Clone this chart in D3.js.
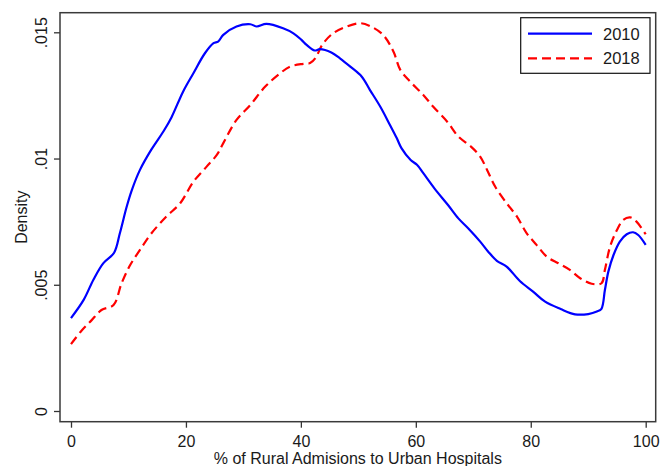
<!DOCTYPE html>
<html>
<head>
<meta charset="utf-8">
<script src="https://cdn.jsdelivr.net/npm/d3@7/dist/d3.min.js"></script>
<style>
  html, body { margin: 0; padding: 0; background: #fff; }
  svg { display: block; }
  text { font-family: "Liberation Sans", Arial, Helvetica, sans-serif; fill: #1a1a1a; }
</style>
</head>
<body>
<svg id="chart" width="670" height="466"></svg>
<script>
// ---- Data ----
const seriesNames = ["2010", "2018"];
const xTicks = [0, 20, 40, 60, 80, 100];
const yTicks = [0, 0.005, 0.01, 0.015];
const yTickLabels = ["0", ".005", ".01", ".015"];

const x2010 = [0, 2.2, 3.9, 5.6, 7.5, 8.5, 9.7, 10.6, 12.0, 14.0, 16.1, 17.5, 19.5, 21.3, 23.3, 24.8, 25.6, 26.5, 28.8, 31.2, 32.3, 34.0, 36.9, 38.7, 40.1, 41.0, 42.4, 43.3, 45.3, 46.8, 48.6, 50.6, 52.0, 53.8, 55.5, 56.7, 57.5, 59.1, 60.2, 61.3, 63.3, 65.6, 67.4, 69.1, 71.2, 72.6, 74.1, 75.8, 78.1, 80.4, 82.5, 85.2, 87.7, 90.0, 91.5, 92.3, 92.9, 93.5, 94.4, 95.5, 96.7, 97.8, 98.7, 100];
const y2010 = [0.00368, 0.0044, 0.0052, 0.00585, 0.00627, 0.00704, 0.0081, 0.00876, 0.00955, 0.01036, 0.01108, 0.01164, 0.01265, 0.01338, 0.01417, 0.01457, 0.01463, 0.0149, 0.01523, 0.01532, 0.01523, 0.01533, 0.01516, 0.01496, 0.0147, 0.0145, 0.01428, 0.01433, 0.0142, 0.01397, 0.01364, 0.01324, 0.01272, 0.01206, 0.01133, 0.0108, 0.01041, 0.00994, 0.00975, 0.00942, 0.0088, 0.00816, 0.00763, 0.00724, 0.00671, 0.00631, 0.00595, 0.00572, 0.00515, 0.00473, 0.00433, 0.00404, 0.00383, 0.00384, 0.00394, 0.00405, 0.00479, 0.00552, 0.00618, 0.00671, 0.007, 0.00708, 0.00697, 0.00658];

const x2018 = [0, 1.9, 3.6, 5.3, 7.4, 8.8, 10.3, 12.0, 14.0, 16.6, 19.0, 21.3, 23.6, 25.4, 26.5, 28.8, 31.2, 33.8, 36.4, 38.1, 40.4, 41.6, 42.6, 43.7, 45.6, 48.0, 50.3, 52.0, 54.3, 56.1, 57.3, 59.0, 61.3, 63.0, 65.5, 67.4, 69.6, 71.2, 72.4, 73.8, 75.8, 77.6, 79.3, 81.0, 82.8, 84.8, 86.8, 88.6, 90.6, 92.3, 92.9, 93.8, 95.0, 96.1, 97.3, 98.4, 100];
const y2018 = [0.00265, 0.0032, 0.0036, 0.004, 0.0042, 0.00506, 0.00578, 0.00638, 0.00704, 0.0077, 0.00823, 0.00908, 0.00968, 0.01015, 0.01061, 0.01153, 0.01212, 0.01285, 0.01338, 0.01364, 0.01375, 0.01378, 0.014, 0.0145, 0.01496, 0.01523, 0.01536, 0.01525, 0.0149, 0.01424, 0.01351, 0.01305, 0.01252, 0.01206, 0.01145, 0.01087, 0.01047, 0.01008, 0.00955, 0.00889, 0.00823, 0.0077, 0.00704, 0.00658, 0.00611, 0.00585, 0.00559, 0.00526, 0.00504, 0.00506, 0.00559, 0.00651, 0.00717, 0.00757, 0.00767, 0.0075, 0.00700];

const xTitle = "% of Rural Admisions to Urban Hospitals";
const yTitle = "Density";

// ---- Layout ----
const frame = { left: 60, top: 12.7, right: 655.7, bottom: 421.7 };
const svg = d3.select("#chart");

const x = d3.scaleLinear().domain([0, 100]).range([71, 645.7]);
const y = d3.scaleLinear().domain([0, 0.015]).range([411, 32.3]);

// clip
svg.append("defs").append("clipPath").attr("id", "clip")
  .append("rect")
  .attr("x", frame.left).attr("y", frame.top)
  .attr("width", frame.right - frame.left).attr("height", frame.bottom - frame.top);

// Axes
const xAxis = d3.axisBottom(x).tickValues(xTicks).tickSize(6).tickPadding(8).tickFormat(d3.format("d"));
const gx = svg.append("g").attr("transform", `translate(0,${frame.bottom})`).call(xAxis);
gx.select(".domain").remove();
gx.selectAll(".tick line").attr("stroke", "#333").attr("stroke-width", 1.3);
gx.selectAll(".tick text").attr("font-size", "16px").attr("fill", "#1a1a1a")
  .attr("font-family", "'Liberation Sans', Arial, sans-serif").attr("dy", "0.71em").attr("y", 14);

const yAxis = d3.axisLeft(y).tickValues(yTicks).tickSize(6).tickFormat((d, i) => yTickLabels[i]);
const gy = svg.append("g").attr("transform", `translate(${frame.left},0)`).call(yAxis);
gy.select(".domain").remove();
gy.selectAll(".tick line").attr("stroke", "#333").attr("stroke-width", 1.3);
gy.selectAll(".tick text")
  .attr("font-size", "16px").attr("fill", "#1a1a1a")
  .attr("font-family", "'Liberation Sans', Arial, sans-serif")
  .attr("x", null).attr("dy", null)
  .attr("text-anchor", "middle")
  .attr("transform", "translate(-13,0) rotate(-90)");

// Frame
svg.append("rect")
  .attr("x", frame.left).attr("y", frame.top)
  .attr("width", frame.right - frame.left).attr("height", frame.bottom - frame.top)
  .attr("fill", "none").attr("stroke", "#3a3a3a").attr("stroke-width", 1.5);

// Lines
const line = d3.line().x(d => x(d[0])).y(d => y(d[1])).curve(d3.curveCatmullRom.alpha(0.5));
const d2010 = x2010.map((v, i) => [v, y2010[i]]);
const d2018 = x2018.map((v, i) => [v, y2018[i]]);

const plot = svg.append("g").attr("clip-path", "url(#clip)");
plot.append("path").datum(d2018).attr("d", line)
  .attr("fill", "none").attr("stroke", "#ff0000").attr("stroke-width", 2.2)
  .attr("stroke-dasharray", "9,5");
plot.append("path").datum(d2010).attr("d", line)
  .attr("fill", "none").attr("stroke", "#0000ff").attr("stroke-width", 2.2);

// Axis titles
svg.append("text").attr("x", (frame.left + frame.right) / 2).attr("y", 464)
  .attr("text-anchor", "middle").attr("font-size", "16px").text(xTitle);
svg.append("text").attr("transform", `translate(27,${(frame.top + frame.bottom) / 2}) rotate(-90)`)
  .attr("text-anchor", "middle").attr("font-size", "16px").text(yTitle);

// Legend
const lg = svg.append("g");
lg.append("rect").attr("x", 520.7).attr("y", 17.7).attr("width", 129.3).attr("height", 55.6)
  .attr("fill", "#fff").attr("stroke", "#111").attr("stroke-width", 1.2);
const legendRows = [
  { name: seriesNames[0], color: "#0000ff", dash: null, y: 33.7 },
  { name: seriesNames[1], color: "#ff0000", dash: "9,5", y: 58.3 }
];
legendRows.forEach(r => {
  lg.append("line").attr("x1", 528).attr("x2", 592).attr("y1", r.y).attr("y2", r.y)
    .attr("stroke", r.color).attr("stroke-width", 2.2)
    .attr("stroke-dasharray", r.dash);
  lg.append("text").attr("x", 603).attr("y", r.y + 6).attr("font-size", "16.5px").text(r.name);
});
</script>
</body>
</html>
